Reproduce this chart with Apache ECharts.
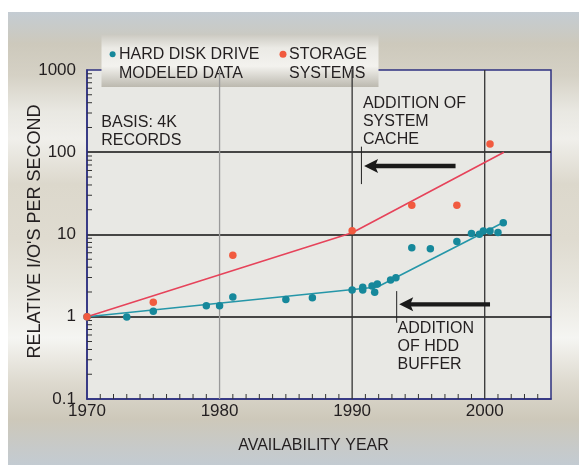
<!DOCTYPE html>
<html><head><meta charset="utf-8">
<script src="https://cdn.jsdelivr.net/npm/echarts@6/dist/echarts.min.js"></script>
<style>html,body{margin:0;padding:0;background:#fff}#c{width:579px;height:465px}</style>
</head><body><div id="c"></div>
<script>
// ---- data ----
const seriesNames = ['HARD DISK DRIVE\nMODELED DATA', 'STORAGE\nSYSTEMS'];
const hddYears  = [1970, 1973, 1975, 1979, 1980, 1981, 1985, 1987, 1990, 1990.8, 1990.8, 1991.5, 1991.7, 1991.9, 1992.9, 1993.3, 1994.5, 1995.9, 1997.9, 1999.0, 1999.6, 1999.9, 2000.4, 2001.0, 2001.4];
const hddValues = [1.0, 0.99, 1.17, 1.36, 1.36, 1.74, 1.62, 1.70, 2.11, 2.28, 2.11, 2.37, 1.98, 2.5, 2.8, 2.97, 6.9, 6.7, 8.2, 10.3, 10.1, 11.0, 11.0, 10.6, 13.9];
const storageYears  = [1970, 1975, 1981, 1990, 1994.5, 1997.9, 2000.4];
const storageValues = [1.0, 1.5, 5.6, 11.1, 22.7, 22.7, 126];
const hddTrendYears  = [1970, 1991.9, 2001.4];
const hddTrendValues = [1.0, 2.3, 14];
const storageTrendYears  = [1970, 1990, 2001.45];
const storageTrendValues = [1.0, 10.5, 100];
const xTickLabels = ['1970', '1980', '1990', '2000'];
const yTickLabels = ['0.1', '1', '10', '100', '1000'];
const xGridYears = [1980, 1990, 2000];
const xMinorTicks = [1971,1972,1973,1974,1975,1976,1977,1978,1979,1981,1982,1983,1984,1985,1986,1987,1988,1989,1991,1992,1993,1994,1995,1996,1997,1998,1999,2001,2002,2003,2004];
const yMinorTicks = [0.2,0.3,0.4,0.5,0.6,0.7,0.8,0.9,2,3,4,5,6,7,8,9,20,30,40,50,60,70,80,90,200,300,400,500,600,700,800,900];
// annotations (data coordinates)
const noteTexts = ['BASIS: 4K\nRECORDS', 'ADDITION OF\nSYSTEM\nCACHE', 'ADDITION\nOF HDD\nBUFFER'];
const noteX = [1971.08, 1990.81, 1993.43];
const noteY = [292, 498, 0.912];
const arrowTipX  = [1990.9, 1993.55];
const arrowTipY  = [68, 1.415];
const arrowTailX = [1997.8, 2000.4];
const leaderX    = [1990.7, 1993.36];
const leaderTopY = [117, 2.05];
const leaderBotY = [41, 0.845];

// ---- chart ----
const FONT = "'Liberation Sans', Arial, Helvetica, sans-serif";
const TEXT = '#231f20';
const TEAL = '#16889b', TEAL_LINE = '#2596a8', RED = '#f15a3f', RED_LINE = '#e6435a';
const chart = echarts.init(document.getElementById('c'));

const gridLineColors = ['#9a9a9a', '#333333', '#333333'];

const option = {
  animation: false,
  textStyle: { fontFamily: FONT },
  grid: { left: 87, right: 28, top: 70, bottom: 66, show: true, backgroundColor: '#e8e8e4', borderColor: '#2e3180', borderWidth: 1.5 },
  xAxis: {
    type: 'value', min: 1970, max: 2005, interval: 10,
    axisLine: { show: true, lineStyle: { color: '#2e3180', width: 1.5 } },
    axisTick: { show: false },
    splitLine: { show: false },
    axisLabel: { fontSize: 17, color: TEXT, margin: 4, showMaxLabel: false, fontFamily: FONT,
      formatter: v => { const i = xTickLabels.indexOf(String(Math.round(v))); return i >= 0 ? xTickLabels[i] : ''; } },
    name: 'AVAILABILITY YEAR', nameLocation: 'middle', nameGap: 39, nameMoveOverlap: false,
    nameTextStyle: { fontSize: 16, color: TEXT, fontFamily: FONT, padding: [0, 11, 0, 0] }
  },
  yAxis: {
    type: 'log', logBase: 10, min: 0.1, max: 1000,
    axisLine: { show: true, lineStyle: { color: '#2e3180', width: 1.5 } },
    axisTick: { show: false },
    splitLine: { show: true, showMinLine: false, showMaxLine: false, lineStyle: { color: '#111', width: 1.5 } },
    axisLabel: { fontSize: 17, color: TEXT, margin: 11, fontFamily: FONT,
      formatter: v => { const i = Math.round(Math.log10(v)) + 1; return yTickLabels[i] || ''; } },
    name: "RELATIVE I/O'S PER SECOND", nameLocation: 'middle', nameGap: 43, nameMoveOverlap: false,
    nameTextStyle: { fontSize: 18, color: TEXT, fontFamily: FONT, padding: [0, 0, 0, 6] }
  },
  series: [
    { // vertical grid lines
      type: 'custom', z: 1, silent: true,
      data: xGridYears.map(x => [x, 1]),
      renderItem: (params, api) => {
        const p = api.coord([api.value(0), api.value(1)]);
        const cs = params.coordSys;
        return { type: 'line', shape: { x1: p[0], y1: cs.y, x2: p[0], y2: cs.y + cs.height },
          style: { stroke: gridLineColors[params.dataIndex], lineWidth: 1.3 } };
      }
    },
    { // x minor ticks
      type: 'custom', z: 2, silent: true,
      data: xMinorTicks.map(x => [x, 0.1]),
      renderItem: (params, api) => {
        const p = api.coord([api.value(0), api.value(1)]);
        return { type: 'line', shape: { x1: p[0], y1: p[1], x2: p[0], y2: p[1] - 5 }, style: { stroke: '#333', lineWidth: 1 } };
      }
    },
    { // y minor ticks
      type: 'custom', z: 2, silent: true,
      data: yMinorTicks.map(v => [1970, v]),
      renderItem: (params, api) => {
        const p = api.coord([api.value(0), api.value(1)]);
        return { type: 'line', shape: { x1: p[0], y1: p[1], x2: p[0] + 5, y2: p[1] }, style: { stroke: '#333', lineWidth: 1 } };
      }
    },
    {
      name: seriesNames[0] + ' trend', type: 'line', z: 3, silent: true, showSymbol: false,
      data: hddTrendYears.map((x, i) => [x, hddTrendValues[i]]),
      lineStyle: { color: TEAL_LINE, width: 1.6 }
    },
    {
      name: seriesNames[1] + ' trend', type: 'line', z: 3, silent: true, showSymbol: false,
      data: storageTrendYears.map((x, i) => [x, storageTrendValues[i]]),
      lineStyle: { color: RED_LINE, width: 1.6 }
    },
    {
      name: seriesNames[0], type: 'scatter', z: 4, symbolSize: 7.5,
      data: hddYears.map((x, i) => [x, hddValues[i]]),
      itemStyle: { color: TEAL, opacity: 1 }
    },
    {
      name: seriesNames[1], type: 'scatter', z: 5, symbolSize: 7.5,
      data: storageYears.map((x, i) => [x, storageValues[i]]),
      itemStyle: { color: RED, opacity: 1 }
    },
    { // leader lines
      type: 'custom', z: 6, silent: true,
      data: leaderX.map((x, i) => [x, leaderTopY[i], leaderBotY[i]]),
      renderItem: (params, api) => {
        const a = api.coord([api.value(0), api.value(1)]);
        const b = api.coord([api.value(0), api.value(2)]);
        return { type: 'line', shape: { x1: a[0], y1: a[1], x2: b[0], y2: b[1] }, style: { stroke: '#222', lineWidth: 1 } };
      }
    },
    { // arrows
      type: 'custom', z: 6, silent: true,
      data: arrowTipX.map((x, i) => [x, arrowTipY[i], arrowTailX[i]]),
      renderItem: (params, api) => {
        const tip = api.coord([api.value(0), api.value(1)]);
        const tail = api.coord([api.value(2), api.value(1)]);
        const y = tip[1];
        return { type: 'group', children: [
          { type: 'rect', shape: { x: tip[0] + 9, y: y - 2.2, width: tail[0] - tip[0] - 9, height: 4.4 }, style: { fill: '#1a1a1a' } },
          { type: 'polygon', shape: { points: [[tip[0], y], [tip[0] + 14, y - 7], [tip[0] + 11, y], [tip[0] + 14, y + 7]] }, style: { fill: '#1a1a1a' } }
        ] };
      }
    },
    { // annotation texts
      type: 'custom', z: 7, silent: true,
      data: noteX.map((x, i) => [x, noteY[i]]),
      renderItem: (params, api) => {
        const p = api.coord([api.value(0), api.value(1)]);
        return { type: 'text', x: p[0], y: p[1],
          style: { text: noteTexts[params.dataIndex], fill: TEXT, font: '16px ' + FONT, lineHeight: 17.7, align: 'left', verticalAlign: 'top' } };
      }
    }
  ],
  graphic: [
    { type: 'rect', z: -100, silent: true, shape: { x: 8, y: 12, width: 571, height: 453 },
      style: { fill: new echarts.graphic.LinearGradient(0, 0, 0, 1, [
        { offset: 0.00, color: '#c4ccd3' },
        { offset: 0.07, color: '#cdc9bc' },
        { offset: 0.14, color: '#d5d1c5' },
        { offset: 0.22, color: '#e9e8e2' },
        { offset: 0.28, color: '#f0efeb' },
        { offset: 0.38, color: '#dcd8cc' },
        { offset: 0.50, color: '#dfdbd0' },
        { offset: 0.60, color: '#e7e5dd' },
        { offset: 0.72, color: '#f5f5f2' },
        { offset: 0.82, color: '#ddd9ce' },
        { offset: 0.90, color: '#cdc8ba' },
        { offset: 1.00, color: '#c3cbd2' }
      ]) } },
    { type: 'group', z: 100, children: [
      { type: 'rect', shape: { x: 101.5, y: 35, width: 277, height: 52 },
        style: { fill: new echarts.graphic.LinearGradient(0, 0, 0, 1, [
          { offset: 0, color: '#cdcbc3' }, { offset: 0.25, color: '#ebeae5' },
          { offset: 0.6, color: '#f3f2ee' }, { offset: 1, color: '#bcb9af' }
        ]) } },
      { type: 'circle', shape: { cx: 112.6, cy: 54.3, r: 3 }, style: { fill: TEAL } },
      { type: 'text', x: 119, y: 45.5, style: { text: seriesNames[0], font: '16px ' + FONT, fill: TEXT, lineHeight: 19 } },
      { type: 'circle', shape: { cx: 283, cy: 54.3, r: 3.5 }, style: { fill: RED } },
      { type: 'text', x: 289, y: 45.5, style: { text: seriesNames[1], font: '16px ' + FONT, fill: TEXT, lineHeight: 19 } }
    ] }
  ]
};
chart.setOption(option);
</script>
</body></html>
